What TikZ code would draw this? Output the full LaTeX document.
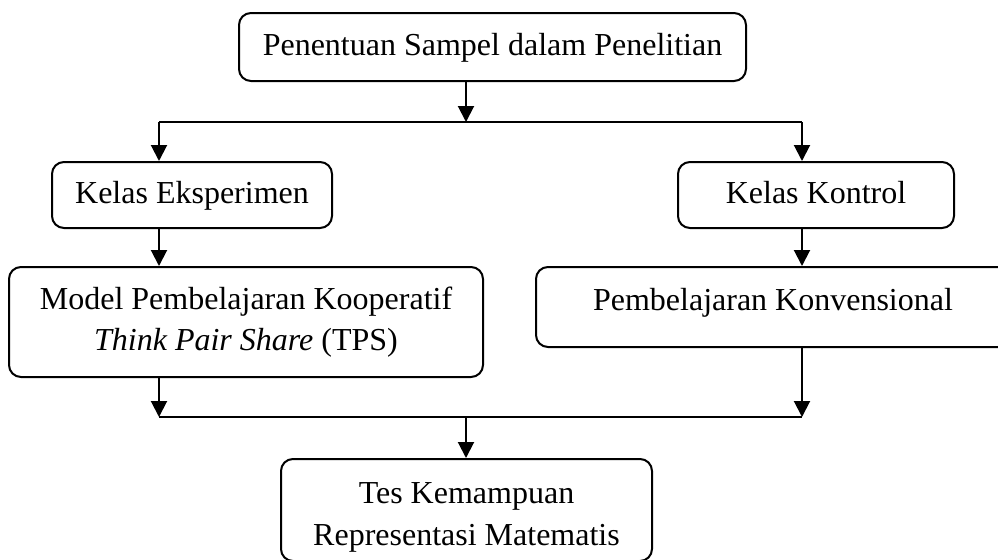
\documentclass[tikz,border=0pt]{standalone}
\usepackage{fontspec}
\setmainfont{Liberation Serif}
\usetikzlibrary{arrows.meta}
\begin{document}
\begin{tikzpicture}[x=0.5pt,y=-0.5pt,
  box/.style={draw, line width=1pt, rounded corners=6pt, inner sep=0pt, align=center,
    font=\fontsize{16}{20.5}\selectfont},
  one/.style={text height=11.5pt, text depth=3.5pt},
  lbl/.style={inner sep=0pt, font=\fontsize{16}{20.5}\selectfont},
  arr/.style={line width=1pt, -{Triangle[width=8pt,length=8pt]}},
  ln/.style={line width=1pt}]
\useasboundingbox (0,0) rectangle (998,559);
\clip (0,0) rectangle (998,559);
% boxes
\node[box, one, minimum width=253.5pt, minimum height=34pt] (top) at (492.5,47) {Penentuan Sampel dalam Penelitian};
\node[box, one, minimum width=140pt, minimum height=33pt] (eks) at (192,195) {Kelas Eksperimen};
\node[box, one, minimum width=138pt, minimum height=33pt] (kon) at (816,195) {Kelas Kontrol};
\node[box, minimum width=237pt, minimum height=55pt] (tps) at (246,322) {Model Pembelajaran Kooperatif\\\textit{Think Pair Share} (TPS)};
\node[box, minimum width=237pt, minimum height=40pt] (konv) at (773,307) {};
\node[lbl, anchor=base] (konvt) at (773,310) {Pembelajaran Konvensional};
\node[box, minimum width=185.5pt, minimum height=51pt] (tes) at (466.5,510) {};
\node[lbl, anchor=base] (tes1) at (466.5,503) {Tes Kemampuan};
\node[lbl, anchor=base] (tes2) at (466.5,545) {Representasi Matematis};
% junctions
\coordinate (j1) at (466,122);
\coordinate (jl) at (159,122);
\coordinate (jr) at (802,122);
\coordinate (kl) at (159,417);
\coordinate (kr) at (802,417);
\coordinate (km) at (466,417);
% connectors
\draw[arr] (j1 |- top.south) -- (j1);
\draw[ln] (jl) -- (jr);
\draw[arr] (jl) -- (jl |- eks.north);
\draw[arr] (jr) -- (jr |- kon.north);
\draw[arr] (jl |- eks.south) -- (jl |- tps.north);
\draw[arr] (jr |- kon.south) -- (jr |- konv.north);
\draw[arr] (kl |- tps.south) -- (kl);
\draw[arr] (kr |- konv.south) -- (kr);
\draw[ln] (kl) -- (kr);
\draw[arr] (km) -- (km |- tes.north);
\end{tikzpicture}
\end{document}
